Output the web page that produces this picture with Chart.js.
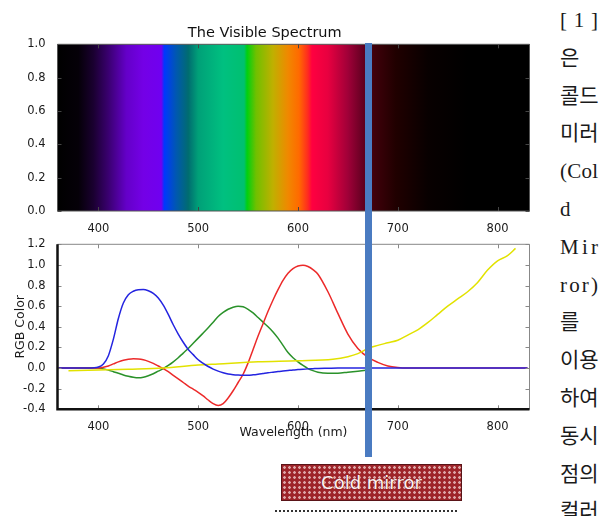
<!DOCTYPE html>
<html>
<head>
<meta charset="utf-8">
<script src="https://cdn.jsdelivr.net/npm/chart.js@4.4.1/dist/chart.umd.min.js"></script>
<style>
  body { margin: 0; width: 599px; height: 516px; background: #fff; overflow: hidden; position: relative; }
  canvas { position: absolute; left: 0; }
  #spectrum { top: 0; }
  #rgb { top: 232px; }
  #mirror-bar { position: absolute; width: 7px; top: 43px; height: 414px; background: #4a7bc1; }
  #mirror-label {
    position: absolute; left: 281px; top: 464px; width: 179px; height: 35px;
    background-color: #9e2429;
    background-image: radial-gradient(circle, rgba(255,235,235,0.65) 1px, transparent 1.6px);
    background-size: 5px 5px;
    border: 1px solid #5a1418;
    color: #fff2f2; font: 18px "DejaVu Sans", sans-serif;
    display: flex; align-items: center; justify-content: center;
    text-shadow: 0 0 1px #5a1418;
  }
  #mirror-dots { position: absolute; left: 275px; top: 510px; width: 182px; border-top: 2px dotted #333; }
  #side-text { position: absolute; left: 560px; top: 3px; width: 38px; font: 21px "Liberation Serif", "Noto Sans CJK KR", serif; color: #1a1a1a; }
  #side-text div { height: 37.8px; line-height: 34px; display: flex; justify-content: space-between; white-space: pre; }
  #side-text div.single { justify-content: flex-start; }
</style>
</head>
<body>
<canvas id="spectrum" width="545" height="232"></canvas>
<canvas id="rgb" width="545" height="220"></canvas>
<div id="mirror-bar"></div>
<div id="mirror-label">Cold mirror</div>
<div id="mirror-dots"></div>
<div id="side-text"></div>
<script>
// axis ranges and ticks
const xMin = 359;
const xMax = 832;
const xTicks = [400, 500, 600, 700, 800];
const spectrumYTicks = [0, 0.2, 0.4, 0.6, 0.8, 1.0];
const rgbYTicks = [-0.4, -0.2, 0, 0.2, 0.4, 0.6, 0.8, 1.0, 1.2];

// colour stops of the spectrum strip (nm -> colour)
const spectrumNm = [359, 380, 395, 410, 428, 445, 463, 466, 478, 490, 500, 525, 546, 549, 558, 575, 590, 601, 610, 614, 630, 650, 666, 676, 698, 730, 770, 832];
const spectrumColor = ["#000000", "#050008", "#1a0030", "#3a0070", "#6400c8", "#7400e6", "#7000f0", "#0038ff", "#0058b0", "#006c70", "#00a078", "#00c080", "#00c070", "#00d010", "#70c000", "#c0b000", "#f08800", "#ff6a00", "#ff2a20", "#ff0040", "#e80040", "#a00038", "#600020", "#40000a", "#200000", "#080000", "#000000", "#000000"];

// RGB colour matching curves
const wavelengths = [360, 370, 380, 390,
  400, 405, 410, 415, 420, 425, 430, 435, 440, 445, 450,
  455, 460, 465, 470, 475, 480, 485, 490, 495, 500,
  505, 510, 515, 520, 525, 530, 535, 540, 545, 550,
  555, 560, 565, 570, 575, 580, 585, 590, 595, 600,
  605, 610, 615, 620,
  630, 640, 650, 660, 670, 680, 690, 700, 710, 720, 830];
const red = [0, 0, 0, 0,
  0, 0.008, 0.02, 0.04, 0.06, 0.075, 0.085, 0.09, 0.088, 0.08, 0.065,
  0.045, 0.02, -0.005, -0.035, -0.07, -0.105, -0.14, -0.175, -0.205, -0.235,
  -0.27, -0.31, -0.345, -0.362, -0.345, -0.29, -0.22, -0.14, -0.06, 0.05,
  0.18, 0.31, 0.43, 0.55, 0.66, 0.76, 0.85, 0.92, 0.965, 0.99,
  0.998, 0.985, 0.955, 0.91,
  0.74, 0.53, 0.33, 0.19, 0.105, 0.055, 0.02, 0.005, 0, 0, 0];
const green = [0, 0, 0, 0,
  0, -0.008, -0.02, -0.035, -0.05, -0.067, -0.08, -0.09, -0.095, -0.09, -0.075,
  -0.055, -0.03, -0.005, 0.025, 0.06, 0.10, 0.145, 0.19, 0.24, 0.29,
  0.34, 0.39, 0.445, 0.50, 0.54, 0.57, 0.59, 0.60, 0.595, 0.57,
  0.535, 0.49, 0.445, 0.40, 0.35, 0.29, 0.22, 0.15, 0.10, 0.06,
  0.025, -0.005, -0.025, -0.04,
  -0.05, -0.05, -0.04, -0.03, -0.02, null, null, null, null, null, null];
const blue = [0, 0, 0, 0,
  0.01, 0.04, 0.12, 0.28, 0.48, 0.63, 0.71, 0.745, 0.76, 0.762, 0.75,
  0.725, 0.68, 0.61, 0.52, 0.42, 0.33, 0.25, 0.18, 0.13, 0.08,
  0.045, 0.015, -0.01, -0.03, -0.045, -0.057, -0.064, -0.068, -0.07, -0.07,
  -0.066, -0.06, -0.053, -0.046, -0.04, -0.034, -0.029, -0.024, -0.019, -0.015,
  -0.011, -0.008, -0.006, -0.004,
  -0.002, 0, 0, 0, 0, 0, 0, 0, 0, 0, 0];

// near-infrared curve (yellow)
const irWavelengths = [370, 400, 430, 465, 500, 520, 560, 600, 635, 650, 660, 670, 680, 690, 700, 710, 720, 730, 740, 750, 760, 770, 780, 790, 800, 810, 818];
const irCurve = [-0.025, -0.02, -0.012, 0, 0.03, 0.04, 0.06, 0.07, 0.085, 0.11, 0.14, 0.19, 0.22, 0.245, 0.27, 0.32, 0.37, 0.44, 0.52, 0.60, 0.67, 0.74, 0.83, 0.95, 1.04, 1.09, 1.16];

const mirrorCutoff = 671;

const sideLines = ["[ 1 ]", "은", "콜드", "미러", "(Col", "d", "Mir", "ror)", "를", "이용", "하여", "동시", "점의", "컬러"];

const tickFont = { family: "DejaVu Sans", size: 11.5 };
const textColor = "#1a1a1a";

function points(xs, ys) {
  return xs.map((x, i) => ({ x: x, y: ys[i] }));
}

const spectrumPlugin = {
  id: "spectrum",
  beforeDatasetsDraw(chart) {
    const { ctx, chartArea: a, scales } = chart;
    const x0 = scales.x.getPixelForValue(xMin);
    const x1 = scales.x.getPixelForValue(xMax);
    const g = ctx.createLinearGradient(x0, 0, x1, 0);
    spectrumNm.forEach((nm, i) => {
      g.addColorStop((nm - xMin) / (xMax - xMin), spectrumColor[i]);
    });
    ctx.save();
    ctx.fillStyle = g;
    ctx.fillRect(a.left, a.top, a.right - a.left, a.bottom - a.top);
    ctx.restore();
  },
};

// matplotlib style frame with inward ticks
const framePlugin = {
  id: "frame",
  afterDraw(chart, args, opts) {
    const { ctx, chartArea: a, scales } = chart;
    ctx.save();
    ctx.strokeStyle = opts.tickColor || "#666";
    ctx.lineWidth = 1;
    scales.x.ticks.forEach((t) => {
      const x = Math.round(scales.x.getPixelForValue(t.value)) + 0.5;
      ctx.beginPath();
      ctx.moveTo(x, a.top); ctx.lineTo(x, a.top + 4);
      ctx.moveTo(x, a.bottom); ctx.lineTo(x, a.bottom - 4);
      ctx.stroke();
    });
    scales.y.ticks.forEach((t) => {
      const y = Math.round(scales.y.getPixelForValue(t.value)) + 0.5;
      ctx.beginPath();
      ctx.moveTo(a.left, y); ctx.lineTo(a.left + 4, y);
      ctx.moveTo(a.right, y); ctx.lineTo(a.right - 4, y);
      ctx.stroke();
    });
    ctx.strokeStyle = opts.thinColor || "#555";
    ctx.lineWidth = 1;
    ctx.beginPath();
    ctx.moveTo(a.left, a.top); ctx.lineTo(a.right, a.top); ctx.lineTo(a.right, a.bottom);
    ctx.stroke();
    ctx.strokeStyle = opts.thickColor || "#555";
    ctx.lineWidth = opts.thick || 1;
    ctx.beginPath();
    ctx.moveTo(a.left, a.top); ctx.lineTo(a.left, a.bottom); ctx.lineTo(a.right, a.bottom);
    ctx.stroke();
    ctx.restore();
  },
};

function xScale(height, title) {
  return {
    type: "linear",
    min: xMin,
    max: xMax,
    afterBuildTicks: (s) => { s.ticks = xTicks.map((v) => ({ value: v })); },
    afterFit: (s) => { s.height = height; },
    grid: { display: false },
    border: { display: false },
    ticks: { font: tickFont, color: textColor, padding: 3, maxRotation: 0 },
    title: title,
  };
}

function yScale(min, max, values, title) {
  return {
    min: min,
    max: max,
    afterBuildTicks: (s) => { s.ticks = values.map((v) => ({ value: v })); },
    afterFit: (s) => { s.width = 57.5; },
    grid: { display: false },
    border: { display: false },
    ticks: { font: tickFont, color: textColor, padding: 4, callback: (v) => v.toFixed(1) },
    title: title,
  };
}

const spectrumChart = new Chart(document.getElementById("spectrum"), {
  type: "scatter",
  data: { datasets: [] },
  options: {
    responsive: false,
    animation: false,
    events: [],
    layout: { autoPadding: false, padding: { left: 0, right: 15.5, top: 0, bottom: 0 } },
    plugins: {
      legend: { display: false },
      tooltip: { enabled: false },
      title: {
        display: true,
        text: "The Visible Spectrum",
        color: "#111",
        font: { family: "DejaVu Sans", size: 14.5, weight: "normal" },
        padding: { top: 24.3, bottom: 2.6 },
      },
      frame: { tickColor: "#444", thinColor: "#555", thickColor: "#555", thick: 1 },
    },
    scales: {
      x: xScale(21, { display: false }),
      y: yScale(0, 1, spectrumYTicks, { display: false }),
    },
  },
  plugins: [spectrumPlugin, framePlugin],
});

function curve(label, xs, ys, color, order) {
  return {
    label: label,
    data: points(xs, ys),
    showLine: true,
    borderColor: color,
    borderWidth: 1.5,
    pointRadius: 0,
    cubicInterpolationMode: "monotone",
    spanGaps: false,
    order: order,
  };
}

const rgbChart = new Chart(document.getElementById("rgb"), {
  type: "scatter",
  data: {
    datasets: [
      curve("B", wavelengths, blue, "#2424e0", 0),
      curve("R", wavelengths, red, "#ec2a2a", 2),
      curve("G", wavelengths, green, "#2a922a", 3),
      curve("IR", irWavelengths, irCurve, "#e2e200", 1),
    ],
  },
  options: {
    responsive: false,
    animation: false,
    events: [],
    layout: { autoPadding: false, padding: { left: 0, right: 15.5, top: 12.3, bottom: 0 } },
    plugins: {
      legend: { display: false },
      tooltip: { enabled: false },
      frame: { tickColor: "#888", thinColor: "#888", thickColor: "#111", thick: 2.5 },
    },
    scales: {
      x: xScale(42.7, {
        display: true,
        text: "Wavelength (nm)",
        color: textColor,
        font: { family: "DejaVu Sans", size: 12.5 },
        padding: { top: 0, bottom: 11.5 },
      }),
      y: yScale(-0.4, 1.2, rgbYTicks, {
        display: true,
        text: "RGB Color",
        color: textColor,
        font: { family: "DejaVu Sans", size: 12.5 },
        padding: { top: 13.5, bottom: 0 },
      }),
    },
  },
  plugins: [framePlugin],
});

// cold mirror marker follows the wavelength scale
const bar = document.getElementById("mirror-bar");
bar.style.left = (rgbChart.scales.x.getPixelForValue(mirrorCutoff) - 3.5) + "px";

const side = document.getElementById("side-text");
sideLines.forEach((line) => {
  const row = document.createElement("div");
  const chars = line.replace(/ /g, "").split("");
  if (chars.length === 1) row.className = "single";
  chars.forEach((c) => {
    const s = document.createElement("span");
    s.textContent = c;
    row.appendChild(s);
  });
  side.appendChild(row);
});
</script>
</body>
</html>
